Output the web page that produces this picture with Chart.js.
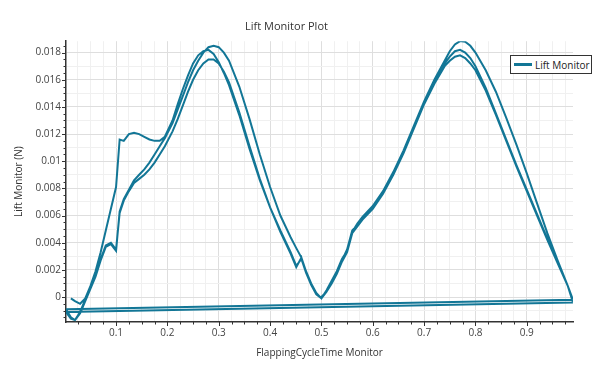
<!DOCTYPE html>
<html>
<head>
<meta charset="utf-8">
<script src="https://cdn.jsdelivr.net/npm/chart.js@4.4.1/dist/chart.umd.min.js"></script>
<style>
  html, body { margin: 0; padding: 0; background: #fff; }
  #wrap { position: relative; width: 600px; height: 369px; }
  #legend {
    position: absolute; left: 510px; top: 55px; width: 82px; height: 19px;
    box-sizing: border-box; border: 1px solid #333; background: #fff;
    display: flex; align-items: center;
    font: 10px 'Open Sans', sans-serif; color: #222;
  }
  #legend .swatch { width: 18px; height: 2.5px; background: #127696; margin: 0 3px 0 3px; }
</style>
</head>
<body>
<div id="wrap">
  <canvas id="chart" width="600" height="369"></canvas>
  <div id="legend"><span class="swatch"></span>Lift Monitor</div>
</div>
<script>
// ─── Data ───────────────────────────────────────────────────────────────────
// phase within one flapping cycle (shared by all three cycles)
const flapTime = [
  0.0025, 0.012, 0.02, 0.03, 0.04, 0.05, 0.06, 0.07, 0.08, 0.09,
  0.1, 0.107, 0.115, 0.125, 0.135, 0.145, 0.155, 0.165, 0.175, 0.185,
  0.195, 0.21, 0.22, 0.23, 0.24, 0.25, 0.26, 0.27, 0.28, 0.29,
  0.3, 0.31, 0.32, 0.34, 0.36, 0.38, 0.4, 0.42, 0.44, 0.451,
  0.461, 0.47, 0.48, 0.49, 0.5, 0.51, 0.52, 0.53, 0.54, 0.55,
  0.56, 0.57, 0.58, 0.6, 0.62, 0.64, 0.66, 0.68, 0.7, 0.72,
  0.74, 0.75, 0.76, 0.77, 0.78, 0.79, 0.8, 0.82, 0.84, 0.86,
  0.88, 0.9, 0.92, 0.94, 0.96, 0.98, 0.99,
];

const liftCycle1 = [
  null, -0.0001, -0.0003, -0.0005, -0.0001, 0.0008, 0.0019, 0.0033, 0.0049, 0.0065,
  0.0081, 0.0116, 0.0115, 0.0120, 0.0121, 0.0120, 0.0118, 0.0116, 0.0115, 0.0115,
  0.0118, 0.0130, 0.0142, 0.0153, 0.0163, 0.0172, 0.0178, 0.0181, 0.0182, 0.0179,
  0.0173, 0.0165, 0.0156, 0.0134, 0.0109, 0.0086, 0.0066, 0.0048, 0.0032, 0.0022,
  0.0029, 0.0018, 0.0009, 0.0002, -0.0001, 0.0004, 0.0011, 0.0018, 0.0027, 0.0035,
  0.0049, 0.0053, 0.0058, 0.0066, 0.0077, 0.0091, 0.0107, 0.0125, 0.0143, 0.0159,
  0.0172, 0.0177, 0.0181, 0.0182, 0.0180, 0.0176, 0.0170, 0.0154, 0.0135, 0.0116,
  0.0097, 0.0079, 0.0061, 0.0043, 0.0025, 0.0008, -0.0002,
];

const liftCycle2 = [
  -0.0009, -0.0015, -0.0017, -0.0012, -0.0003, 0.0006, 0.0015, 0.0027, 0.0037, 0.0039,
  0.0034, 0.0063, 0.0072, 0.0079, 0.0086, 0.0090, 0.0094, 0.0099, 0.0105, 0.0111,
  0.0117, 0.0128, 0.0138, 0.0148, 0.0158, 0.0167, 0.0174, 0.0180, 0.0184, 0.0185,
  0.0184, 0.0180, 0.0174, 0.0155, 0.0131, 0.0105, 0.0081, 0.0060, 0.0044, 0.0036,
  0.0029, 0.0019, 0.0010, 0.0003, -0.0001, 0.0005, 0.0012, 0.0019, 0.0028, 0.0034,
  0.0048, 0.0054, 0.0059, 0.0067, 0.0078, 0.0092, 0.0108, 0.0126, 0.0144, 0.0160,
  0.0174, 0.0181, 0.0186, 0.01885, 0.0188, 0.0185, 0.0180, 0.0167, 0.0151, 0.0132,
  0.0112, 0.0091, 0.0069, 0.0047, 0.0027, 0.0008, -0.0004,
];

const liftCycle3 = [
  -0.0011, -0.0016, -0.0017, -0.0011, -0.0002, 0.0007, 0.0016, 0.0028, 0.0038, 0.0040,
  0.0035, 0.0062, 0.0071, 0.0078, 0.0084, 0.0087, 0.0090, 0.0094, 0.0099, 0.0105,
  0.0111, 0.0122, 0.0131, 0.0141, 0.0151, 0.0160, 0.0167, 0.0172, 0.0175, 0.0175,
  0.0172, 0.0166, 0.0158, 0.0136, 0.0111, 0.0087, 0.0066, 0.0049, 0.0033, 0.0023,
  0.0028, 0.0018, 0.0009, 0.0002, 0.0000, 0.0004, 0.0010, 0.0017, 0.0026, 0.0033,
  0.0047, 0.0052, 0.0057, 0.0065, 0.0076, 0.0090, 0.0106, 0.0124, 0.0142, 0.0157,
  0.0170, 0.0174, 0.0177, 0.0178, 0.0176, 0.0172, 0.0167, 0.0152, 0.0134, 0.0115,
  0.0096, 0.0078, 0.0060, 0.0042, 0.0025, 0.0008, -0.0003,
];

const xMajorTicks = [0.1, 0.2, 0.3, 0.4, 0.5, 0.6, 0.7, 0.8, 0.9];
const yMajorTicks = [0, 0.002, 0.004, 0.006, 0.008, 0.01, 0.012, 0.014, 0.016, 0.018];

// ─── Helpers ────────────────────────────────────────────────────────────────
const LINE_COLOR = '#127696';
const FONT = "'Open Sans', sans-serif";

function cyclePoints(lift) {
  return flapTime.map((t, i) => ({ x: t, y: lift[i] })).filter(p => p.y !== null);
}

const liftPoints = [
  ...cyclePoints(liftCycle1),
  ...cyclePoints(liftCycle2),
  ...cyclePoints(liftCycle3),
];

function tickList(min, max, step, majors) {
  const out = [];
  for (let k = Math.ceil(min / step); k * step <= max + 1e-12; k++) {
    const v = +(k * step).toFixed(6);
    out.push({ value: v, major: majors.some(m => Math.abs(m - v) < 1e-9) });
  }
  return out;
}

const X_MIN = 0.0025, X_MAX = 0.99;
const Y_MIN = -0.00184, Y_MAX = 0.01884;

const isMid = v => Math.abs(v * 1000 - Math.round(v * 1000)) < 1e-6;

// small outward tick marks, longer on majors
const tickMarks = {
  id: 'tickMarks',
  afterDraw(chart) {
    const { ctx, chartArea, scales } = chart;
    ctx.save();
    ctx.strokeStyle = '#333';
    ctx.lineWidth = 1;
    scales.x.ticks.forEach(t => {
      const px = Math.round(scales.x.getPixelForValue(t.value)) + 0.5;
      ctx.beginPath();
      ctx.moveTo(px, chartArea.bottom);
      ctx.lineTo(px, chartArea.bottom + (t.major ? 4 : 2.5));
      ctx.stroke();
    });
    scales.y.ticks.forEach(t => {
      const py = Math.round(scales.y.getPixelForValue(t.value)) + 0.5;
      ctx.beginPath();
      ctx.moveTo(chartArea.left, py);
      ctx.lineTo(chartArea.left - (t.major ? 4 : 2.5), py);
      ctx.stroke();
    });
    ctx.restore();
  },
};

// ─── Chart ──────────────────────────────────────────────────────────────────
new Chart(document.getElementById('chart').getContext('2d'), {
  type: 'scatter',
  data: {
    datasets: [{
      label: 'Lift Monitor',
      data: liftPoints,
      showLine: true,
      borderColor: LINE_COLOR,
      backgroundColor: LINE_COLOR,
      borderWidth: 2,
      pointRadius: 0,
      tension: 0,
    }],
  },
  options: {
    responsive: false,
    animation: false,
    devicePixelRatio: 1,
    layout: { padding: { left: 0, right: 27, top: 0, bottom: 0 } },
    plugins: {
      legend: { display: false },
      tooltip: { enabled: false },
      title: {
        display: true,
        text: 'Lift Monitor Plot',
        color: '#333',
        font: { family: FONT, size: 11, weight: 'normal' },
        padding: { top: 20, bottom: 8 },
      },
    },
    scales: {
      x: {
        type: 'linear',
        min: X_MIN,
        max: X_MAX,
        afterBuildTicks: s => { s.ticks = tickList(X_MIN, X_MAX, 0.025, xMajorTicks); },
        afterFit: s => { s.height = 47; },
        ticks: {
          autoSkip: false,
          maxRotation: 0,
          padding: 5,
          color: '#444',
          font: { family: FONT, size: 10 },
          callback: (v, i, ticks) => ticks[i].major ? String(+v.toFixed(1)) : '',
        },
        grid: {
          drawTicks: false,
          color: c => c.tick && c.tick.major ? '#dedede' : '#f0f0f0',
          lineWidth: 1,
        },
        border: { color: '#333', width: 1.5 },
        title: {
          display: true,
          text: 'FlappingCycleTime Monitor',
          color: '#333',
          font: { family: FONT, size: 10 },
          padding: { top: 0, bottom: 10 },
        },
      },
      y: {
        type: 'linear',
        min: Y_MIN,
        max: Y_MAX,
        afterBuildTicks: s => { s.ticks = tickList(Y_MIN, Y_MAX, 0.0005, yMajorTicks); },
        afterFit: s => { s.width = 66; },
        ticks: {
          autoSkip: false,
          padding: 5,
          color: '#444',
          font: { family: FONT, size: 10 },
          callback: (v, i, ticks) => ticks[i].major ? String(+v.toFixed(3)) : '',
        },
        grid: {
          drawTicks: false,
          color: c => {
            if (!c.tick) return 'rgba(0,0,0,0)';
            if (c.tick.major) return '#dedede';
            return isMid(c.tick.value) ? '#f0f0f0' : 'rgba(0,0,0,0)';
          },
          lineWidth: 1,
        },
        border: { color: '#333', width: 1.5 },
        title: {
          display: true,
          text: 'Lift Monitor (N)',
          color: '#333',
          font: { family: FONT, size: 10 },
          padding: { top: 13, bottom: 0 },
        },
      },
    },
  },
  plugins: [tickMarks],
});
</script>
</body>
</html>
